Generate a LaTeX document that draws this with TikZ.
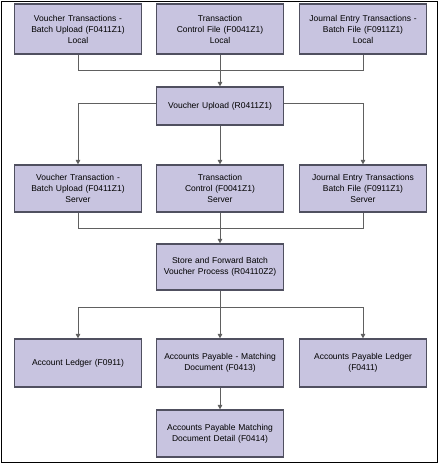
\documentclass[tikz,border=0pt]{standalone}
\usepackage{fontspec}
\setmainfont{Liberation Sans}
\usetikzlibrary{arrows.meta}
\definecolor{boxfill}{HTML}{C8C4E0}
\definecolor{boxline}{HTML}{505060}
\definecolor{conn}{HTML}{606060}
\begin{document}
\begin{tikzpicture}[x=1pt,y=-1pt,
  box/.style={draw=boxline,line width=1.2pt,fill=boxfill,minimum width=127pt,inner sep=1pt,
    align=center,font=\fontsize{8.5}{11}\selectfont,text width=125pt},
  link/.style={draw=conn,line width=0.9pt},
  arr/.style={link,-{Triangle[length=4.5pt,width=4.5pt]}}]
\useasboundingbox (0,0) rectangle (441,464);
\draw[line width=1pt] (1,1) rectangle (437.5,462);
% row 1
\node[box,minimum height=50pt] (L1) at (78,29) {Voucher Transactions -\\Batch Upload (F0411Z1)\\Local};
\node[box,minimum height=50pt] (M1) at (220,29) {Transaction\\Control File (F0041Z1)\\Local};
\node[box,minimum height=50pt] (R1) at (363,29) {Journal Entry Transactions -\\Batch File (F0911Z1)\\Local};
\node[box,minimum height=38pt] (VU) at (220,106) {Voucher Upload (R0411Z1)};
% row 2
\node[box,minimum height=47pt] (L2) at (78,188.5) {Voucher Transaction -\\Batch Upload (F0411Z1)\\Server};
\node[box,minimum height=47pt] (M2) at (220,188.5) {Transaction\\Control (F0041Z1)\\Server};
\node[box,minimum height=47pt] (R2) at (363,188.5) {Journal Entry Transactions\\Batch File (F0911Z1)\\Server};
\node[box,minimum height=46pt] (SF) at (220,267) {Store and Forward Batch\\Voucher Process (R04110Z2)};
% row 3
\node[box,minimum height=48pt] (L3) at (78,363) {Account Ledger (F0911)};
\node[box,minimum height=48pt] (M3) at (220,363) {Accounts Payable - Matching\\Document (F0413)};
\node[box,minimum height=48pt] (R3) at (363,363) {Accounts Payable Ledger\\(F0411)};
\node[box,minimum height=47pt] (B) at (220,433.5) {Accounts Payable Matching\\Document Detail (F0414)};
% junctions
\coordinate (J1) at (220,70);
\coordinate (J2) at (220,228);
\coordinate (J3) at (220,307);
% connectors
\draw[link] (L1.south) |- (J1);
\draw[link] (R1.south) |- (J1);
\draw[arr] (M1.south) -- (VU.north);
\draw[arr] ([yshift=3pt]VU.west) -| (L2.north);
\draw[arr] ([yshift=3pt]VU.east) -| (R2.north);
\draw[arr] (VU.south) -- (M2.north);
\draw[link] (L2.south) |- (J2);
\draw[link] (R2.south) |- (J2);
\draw[arr] (M2.south) -- (SF.north);
\draw[link] (SF.south) -- (J3);
\draw[arr] (J3) -| (L3.north);
\draw[arr] (J3) -| (R3.north);
\draw[arr] (J3) -- (M3.north);
\draw[arr] (M3.south) -- (B.north);
\end{tikzpicture}
\end{document}
